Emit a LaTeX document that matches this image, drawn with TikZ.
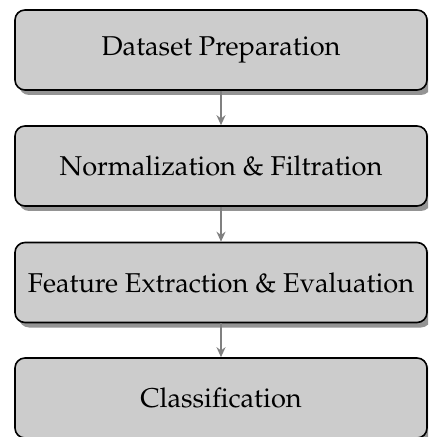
\documentclass[tikz,border=0pt]{standalone}
\usepackage[T1]{fontenc}
\usepackage{mathpazo}
\usetikzlibrary{shadows,arrows.meta}
\tikzset{
  px/.style={x=0.5pt,y=-0.5pt},
  stagebox/.style={draw=black, line width=0.8pt, fill=black!20, rounded corners=5pt,
    minimum width=206pt, minimum height=40pt, inner sep=0pt,
    font=\fontsize{13.6}{16}\selectfont,
    drop shadow={shadow xshift=2pt, shadow yshift=-2.5pt, fill=black!42, opacity=1}},
  flow/.style={draw=black!50, line width=1pt, -{Stealth[length=5pt,width=4.5pt]}}
}
\begin{document}
\begin{tikzpicture}[px]
\useasboundingbox (0,0) rectangle (428,437);
\clip (0,0) rectangle (428,437);
\node[stagebox] (a) at (221,50) {Dataset Preparation};
\node[stagebox] (b) at (221,166) {Normalization \& Filtration};
\node[stagebox] (c) at (221,282.5) {Feature Extraction \& Evaluation};
\node[stagebox] (d) at (221,398) {Classification};
\draw[flow] (a.south) -- (b.north);
\draw[flow] (b.south) -- (c.north);
\draw[flow] (c.south) -- (d.north);
\end{tikzpicture}
\end{document}
